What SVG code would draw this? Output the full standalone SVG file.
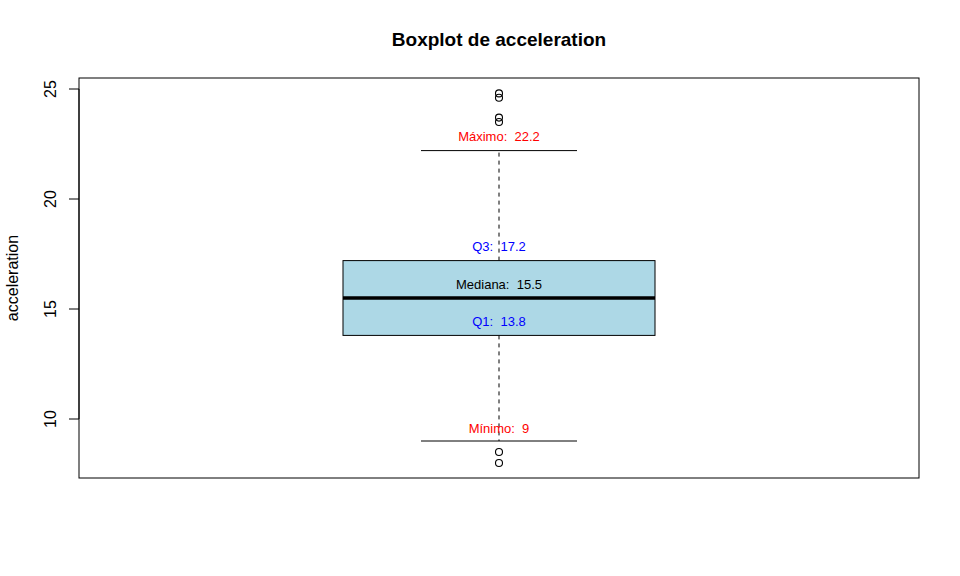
<svg xmlns="http://www.w3.org/2000/svg" width="960" height="576" viewBox="0 0 960 576">
<style>
text{font-family:"Liberation Sans",Arial,sans-serif;white-space:pre}
.ax{font-size:16px;fill:#000}
.lbl{font-size:13px;text-anchor:middle}
.ln{stroke:#000;stroke-width:1;fill:none}
.dash{stroke:#000;stroke-width:1;stroke-dasharray:4,4;fill:none}
.pt{stroke:#000;stroke-width:1.1;fill:none}
</style>
<rect width="960" height="576" fill="#fff"/>
<text x="499" y="46" text-anchor="middle" style="font-size:19px;font-weight:bold">Boxplot de acceleration</text>
<g id="frame">
<rect x="79" y="78" width="840" height="400" class="ln"/>
</g>
<g id="yaxis">
<line x1="79" y1="89" x2="79" y2="419" class="ln"/>
<line x1="69" y1="89" x2="79" y2="89" class="ln"/>
<line x1="69" y1="199" x2="79" y2="199" class="ln"/>
<line x1="69" y1="309" x2="79" y2="309" class="ln"/>
<line x1="69" y1="419" x2="79" y2="419" class="ln"/>
<text class="ax" text-anchor="middle" transform="translate(56,89) rotate(-90)">25</text>
<text class="ax" text-anchor="middle" transform="translate(56,199) rotate(-90)">20</text>
<text class="ax" text-anchor="middle" transform="translate(56,309) rotate(-90)">15</text>
<text class="ax" text-anchor="middle" transform="translate(56,419) rotate(-90)">10</text>
<text class="ax" text-anchor="middle" transform="translate(18,278) rotate(-90)">acceleration</text>
</g>
<g id="connectors">
<line x1="499" y1="260.6" x2="499" y2="150.6" class="dash"/>
<line x1="499" y1="335.4" x2="499" y2="441" class="dash"/>
<line x1="421" y1="150.6" x2="577" y2="150.6" class="ln"/>
<line x1="421" y1="441" x2="577" y2="441" class="ln"/>
</g>
<g id="box">
<rect x="343" y="260.6" width="312" height="74.8" fill="#ADD8E6" stroke="#000" stroke-width="1"/>
<line x1="343" y1="298" x2="655" y2="298" stroke="#000" stroke-width="3.3"/>
</g>
<g id="outliers">
<circle cx="499" cy="93.4" r="3.5" class="pt"/>
<circle cx="499" cy="97.8" r="3.5" class="pt"/>
<circle cx="499" cy="117.6" r="3.5" class="pt"/>
<circle cx="499" cy="122" r="3.5" class="pt"/>
<circle cx="499" cy="452" r="3.5" class="pt"/>
<circle cx="499" cy="463" r="3.5" class="pt"/>
</g>
<g id="labels">
<text class="lbl" x="499" y="141" fill="#FF0000">Máximo:  22.2</text>
<text class="lbl" x="499" y="251" fill="#0000FF">Q3:  17.2</text>
<text class="lbl" x="499" y="289" fill="#000">Mediana:  15.5</text>
<text class="lbl" x="499" y="326" fill="#0000FF">Q1:  13.8</text>
<text class="lbl" x="499" y="432.5" fill="#FF0000">Mínimo:  9</text>
</g>
</svg>
